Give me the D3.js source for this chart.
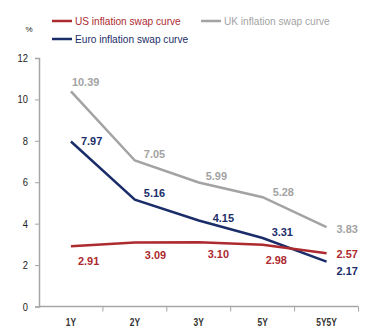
<!DOCTYPE html>
<html lang="en">
<head>
    <meta charset="UTF-8">
    <title>Inflation swap curves</title>
    <style>
        body { margin: 0; background: #fff; }
        svg text { font-family: "Liberation Sans", Arial, sans-serif; }
    </style>
    <script src="https://d3js.org/d3.v7.min.js"></script>
</head>
<body>
    <script>
        const tenors = ["1Y", "2Y", "3Y", "5Y", "5Y5Y"];
        const usValues = [2.91, 3.09, 3.10, 2.98, 2.57];
        const ukValues = [10.39, 7.05, 5.99, 5.28, 3.83];
        const euroValues = [7.97, 5.16, 4.15, 3.31, 2.17];
        const yTicks = [0, 2, 4, 6, 8, 10, 12];

        const WIDTH = 386;
        const HEIGHT = 335;

        // label nudges relative to each point (dx, dy)
        const usLabelPos = [[7, 15], [10, 12], [9, 12], [3, 15], [10, 1]];
        const ukLabelPos = [[1, -9], [9, -7], [7, -6], [10, -5], [10, 2]];
        const euroLabelPos = [[10, 0], [9, -7], [14, -3], [9, -6], [10, 9]];

        const series = [
            { name: "UK inflation swap curve", values: ukValues, color: "#a3a3a3", pos: ukLabelPos },
            { name: "Euro inflation swap curve", values: euroValues, color: "#1b2d69", pos: euroLabelPos },
            { name: "US inflation swap curve", values: usValues, color: "#ad2a2f", pos: usLabelPos }
        ];

        // no narrow font installed, so squeeze text horizontally
        function squeeze(sel, k) {
            sel.each(function() {
                const w = this.getComputedTextLength();
                d3.select(this)
                    .attr("textLength", w * k)
                    .attr("lengthAdjust", "spacingAndGlyphs");
            });
        }

        const svg = d3.select("body").append("svg")
            .attr("width", WIDTH)
            .attr("height", HEIGHT);

        const x = d3.scaleBand()
            .domain(tenors)
            .range([39, 358.5]);

        const y = d3.scaleLinear()
            .domain([0, 12])
            .range([306.5, 58]);

        const axisColor = "#a6a6a6";

        // y axis
        const yAxis = svg.append("g")
            .attr("transform", "translate(39,0)")
            .call(d3.axisLeft(y).tickValues(yTicks).tickSize(4).tickPadding(7));
        yAxis.select(".domain").attr("stroke", axisColor).attr("stroke-width", 1.5);
        yAxis.selectAll(".tick line").attr("stroke", axisColor).attr("stroke-width", 1);
        yAxis.selectAll(".tick text")
            .attr("font-size", 11)
            .attr("font-family", null)
            .attr("fill", "#222")
            .call(squeeze, 0.85);

        // x axis, ticks at band edges
        const xAxis = svg.append("g")
            .attr("transform", "translate(0,306.5)");
        xAxis.append("line")
            .attr("x1", x.range()[0]).attr("x2", x.range()[1])
            .attr("stroke", axisColor).attr("stroke-width", 1.5);
        const edges = tenors.map(t => x(t)).concat([x(tenors[tenors.length - 1]) + x.bandwidth()]);
        xAxis.selectAll(".edge")
            .data(edges.slice(1))
            .enter().append("line")
            .attr("x1", d => d).attr("x2", d => d)
            .attr("y1", 0).attr("y2", 5)
            .attr("stroke", axisColor);
        xAxis.selectAll(".lbl")
            .data(tenors)
            .enter().append("text")
            .attr("x", d => x(d) + x.bandwidth() / 2)
            .attr("y", 19)
            .attr("text-anchor", "middle")
            .attr("font-size", 10)
            .attr("font-weight", "bold")
            .attr("fill", "#333")
            .text(d => d)
            .call(squeeze, 0.84);

        svg.append("text")
            .attr("x", 29).attr("y", 32)
            .attr("text-anchor", "middle")
            .attr("font-size", 8)
            .attr("fill", "#222")
            .text("%");

        const line = d3.line()
            .x((d, i) => x(tenors[i]) + x.bandwidth() / 2)
            .y(d => y(d));

        series.forEach(s => {
            svg.append("path")
                .datum(s.values)
                .attr("fill", "none")
                .attr("stroke", s.color)
                .attr("stroke-width", 2.5)
                .attr("d", line);

            svg.selectAll(null)
                .data(s.values)
                .enter().append("text")
                .attr("x", (d, i) => x(tenors[i]) + x.bandwidth() / 2 + s.pos[i][0])
                .attr("y", (d, i) => y(d) + s.pos[i][1])
                .attr("dy", "0.35em")
                .attr("font-size", 11.5)
                .attr("font-weight", "bold")
                .attr("fill", s.color)
                .text(d => d.toFixed(2))
                .call(squeeze, 0.95);
        });

        // legend
        const legendItems = [
            { s: series[2], lx: 52, ly: 21 },
            { s: series[0], lx: 201, ly: 21 },
            { s: series[1], lx: 52, ly: 39 }
        ];
        const legend = svg.append("g");
        legendItems.forEach(item => {
            legend.append("line")
                .attr("x1", item.lx).attr("x2", item.lx + 20)
                .attr("y1", item.ly).attr("y2", item.ly)
                .attr("stroke", item.s.color)
                .attr("stroke-width", 2.5);
            legend.append("text")
                .attr("x", item.lx + 23)
                .attr("y", item.ly)
                .attr("dy", "0.35em")
                .attr("font-size", 11.5)
                .attr("fill", item.s.color)
                .text(item.s.name)
                .call(squeeze, 0.88);
        });
    </script>
</body>
</html>
